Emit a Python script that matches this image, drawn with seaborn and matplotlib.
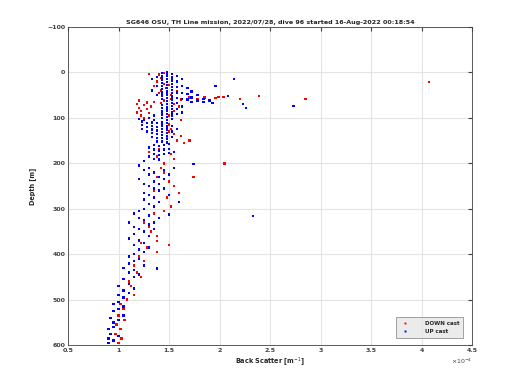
import numpy as np
import pandas as pd
import seaborn as sns
from matplotlib import pyplot as plt

# back scatter in units of 1e-4 m^-1, depth in m
down_points = [
    (1.40, 5), (1.45, 2), (1.42, 12), (1.38, 20), (1.45, 25), (1.35, 30), (1.47, 35),
    (1.42, 40), (1.40, 45), (1.52, 50), (1.50, 28), (1.48, 15), (1.30, 3), (1.58, 42),
    (1.62, 60), (1.70, 55), (1.78, 58), (1.85, 55), (1.96, 56), (1.99, 54), (2.04, 54),
    (2.20, 59), (2.39, 52), (2.85, 59), (4.07, 21),
    (1.18, 70), (1.20, 78), (1.22, 85), (1.25, 72), (1.28, 80), (1.30, 90), (1.22, 95),
    (1.18, 88), (1.32, 75), (1.25, 100), (1.35, 65), (1.42, 68), (1.45, 62), (1.52, 58),
    (1.60, 75), (1.55, 85), (1.50, 95), (1.62, 105), (1.28, 66), (1.20, 62), (1.55, 70),
    (1.50, 115), (1.52, 125), (1.55, 135), (1.48, 145), (1.58, 150), (1.62, 140),
    (1.65, 155), (1.70, 150), (1.45, 160), (1.40, 170), (1.52, 180), (1.55, 190),
    (1.38, 185), (1.30, 175), (2.05, 200), (1.74, 230), (1.45, 200), (1.50, 130),
    (1.42, 210), (1.45, 220), (1.38, 230), (1.50, 240), (1.55, 250), (1.35, 260),
    (1.60, 265), (1.48, 275), (1.40, 285), (1.30, 290), (1.52, 295), (1.45, 305),
    (1.35, 310), (1.40, 320), (1.25, 330), (1.30, 340), (1.32, 350), (1.38, 360),
    (1.38, 371), (1.50, 380), (1.38, 395), (1.22, 375), (1.28, 385),
    (1.20, 405), (1.25, 415), (1.15, 425), (1.18, 440), (1.22, 450), (1.10, 460),
    (1.12, 470), (1.05, 480), (1.15, 490), (1.08, 500),
    (1.02, 510), (1.05, 520), (1.00, 535), (1.06, 545), (0.98, 555), (1.02, 565),
    (0.97, 575), (1.03, 585), (1.00, 595), (0.95, 590),
]

up_points = [
    # 0-110 m
    (1.38, 10), (1.38, 30), (1.38, 50), (1.33, 15), (1.33, 40),
    (1.43, 2), (1.43, 9), (1.43, 16), (1.43, 23), (1.43, 30), (1.43, 37), (1.43, 44),
    (1.43, 51), (1.43, 58), (1.43, 72), (1.43, 79), (1.43, 86), (1.43, 93), (1.43, 100),
    (1.48, 0), (1.48, 7), (1.48, 14), (1.48, 21), (1.48, 28), (1.48, 35), (1.48, 42),
    (1.48, 49), (1.48, 56), (1.48, 63), (1.48, 70), (1.48, 77), (1.48, 84), (1.48, 91),
    (1.48, 98), (1.48, 105),
    (1.53, 4), (1.53, 11), (1.53, 18), (1.53, 25), (1.53, 32), (1.53, 39), (1.53, 46),
    (1.53, 53), (1.53, 60), (1.53, 67), (1.53, 74), (1.53, 81), (1.53, 88), (1.53, 95),
    (1.53, 102),
    (1.58, 8), (1.58, 20), (1.58, 32), (1.58, 44), (1.58, 56), (1.58, 68), (1.58, 80),
    (1.58, 92), (1.63, 15), (1.63, 30), (1.63, 45), (1.63, 58), (1.63, 75), (1.63, 88),
    (1.68, 35), (1.68, 48), (1.68, 60), (1.72, 42), (1.72, 55), (1.72, 65),
    (1.78, 50), (1.78, 62), (1.84, 58), (1.84, 65), (1.90, 62),
    (2.14, 14), (1.96, 30), (2.08, 52), (1.93, 67), (2.23, 70), (2.26, 78), (2.73, 74),
    (1.35, 95), (1.35, 105), (1.30, 100), (1.25, 105), (1.20, 102),
    # 110-160 m
    (1.43, 110), (1.43, 117), (1.43, 124), (1.43, 131), (1.43, 138), (1.43, 145),
    (1.43, 152), (1.48, 112), (1.48, 119), (1.48, 126), (1.48, 133), (1.48, 140),
    (1.48, 147), (1.48, 154), (1.38, 112), (1.38, 120), (1.38, 128), (1.38, 136),
    (1.38, 144), (1.38, 152), (1.33, 110), (1.33, 118), (1.33, 126), (1.33, 134),
    (1.33, 142), (1.28, 112), (1.28, 120), (1.28, 130), (1.23, 108), (1.23, 116),
    (1.23, 124), (1.53, 118), (1.53, 130), (1.53, 142), (1.58, 125),
    # 160-200 m
    (1.30, 165), (1.30, 185), (1.35, 160), (1.35, 170), (1.35, 180), (1.35, 190),
    (1.40, 162), (1.40, 172), (1.40, 182), (1.40, 192), (1.45, 160), (1.45, 170),
    (1.45, 180), (1.50, 158), (1.50, 168), (1.50, 178), (1.55, 175), (1.25, 195),
    (1.74, 202),
    # 200-300 m
    (1.20, 205), (1.20, 235), (1.25, 215), (1.25, 245), (1.25, 265), (1.25, 280),
    (1.30, 210), (1.30, 225), (1.30, 250), (1.30, 270), (1.30, 290), (1.35, 220),
    (1.35, 240), (1.35, 255), (1.35, 275), (1.35, 295), (1.40, 230), (1.40, 245),
    (1.40, 260), (1.40, 285), (1.45, 215), (1.45, 235), (1.45, 255), (1.50, 225),
    (1.50, 270), (1.55, 210), (1.60, 285), (2.33, 316), (1.50, 313),
    # 300-400 m
    (1.10, 330), (1.10, 365), (1.15, 310), (1.15, 340), (1.15, 355), (1.15, 380),
    (1.20, 305), (1.20, 320), (1.20, 345), (1.20, 370), (1.20, 390), (1.25, 300),
    (1.25, 325), (1.25, 350), (1.25, 375), (1.25, 395), (1.30, 315), (1.30, 335),
    (1.30, 360), (1.30, 385), (1.35, 330), (1.35, 345), (1.40, 320), (1.38, 431),
    # 400-500 m
    (1.00, 470), (1.00, 490), (1.05, 430), (1.05, 455), (1.05, 480), (1.05, 495),
    (1.10, 405), (1.10, 420), (1.10, 440), (1.10, 465), (1.10, 485), (1.15, 400),
    (1.15, 415), (1.15, 435), (1.15, 450), (1.15, 475), (1.20, 410), (1.20, 445),
    (1.25, 425),
    # 500-600 m
    (0.90, 565), (0.90, 585), (0.90, 595), (0.92, 540), (0.92, 575), (0.95, 510),
    (0.95, 525), (0.95, 550), (0.95, 560), (0.95, 590), (1.00, 505), (1.00, 520),
    (1.00, 545), (1.00, 580), (1.05, 515), (1.05, 535),
]

title = 'SG646 OSU, TH Line mission, 2022/07/28, dive 96 started 16-Aug-2022 00:18:54'
x_ticks = [0.5, 1, 1.5, 2, 2.5, 3, 3.5, 4, 4.5]
y_ticks = [-100, 0, 100, 200, 300, 400, 500, 600]

down = pd.DataFrame(down_points, columns=['bs', 'depth'])
down['cast'] = 'DOWN cast'
up = pd.DataFrame(up_points, columns=['bs', 'depth'])
up['cast'] = 'UP cast'
df = pd.concat([down, up], ignore_index=True)

sns.set_style('whitegrid', {'grid.color': '#e3e3e3', 'axes.edgecolor': '#404040'})
plt.rcParams['font.family'] = ['DejaVu Sans']

fig = plt.figure(figsize=(5.2, 3.9), dpi=100)
ax = fig.add_axes([0.131, 0.115, 0.777, 0.816])
sns.scatterplot(data=df, x='bs', y='depth', hue='cast',
                palette={'DOWN cast': '#ff0000', 'UP cast': '#0000ff'},
                marker='s', s=3, linewidth=0, ax=ax, legend=True)

ax.set_xlim(0.5, 4.5)
ax.set_ylim(600, -100)
ax.set_xticks(x_ticks)
ax.set_xticklabels([f'{t:g}' for t in x_ticks])
ax.set_yticks(y_ticks)
ax.tick_params(labelsize=4.5, colors='#404040', direction='in', length=3,
               top=True, right=True, pad=2)
for lab in ax.get_xticklabels() + ax.get_yticklabels():
    lab.set_fontweight('bold')
for s in ax.spines.values():
    s.set_linewidth(0.6)

ax.set_xlabel('Back Scatter [m$^{-1}$]', fontsize=4.7, fontweight='bold', labelpad=2)
ax.set_ylabel('Depth [m]', fontsize=4.7, fontweight='bold', labelpad=8)
ax.set_title(title, fontsize=4.6, fontweight='bold', pad=2)
ax.text(1.0, -0.035, r'$\times10^{-4}$', transform=ax.transAxes, fontsize=4.5,
        ha='right', va='top', color='#404040')

leg = ax.legend(loc='lower right', fontsize=4, frameon=True, fancybox=False,
                markerscale=0.8, borderpad=0.7, handletextpad=2.5,
                bbox_to_anchor=(0.985, 0.015))
leg.get_frame().set_facecolor('#e6e6e6')
leg.get_frame().set_edgecolor('#606060')
leg.get_frame().set_linewidth(0.5)
for t in leg.get_texts():
    t.set_fontweight('bold')

fig.savefig('out.png', dpi=100)
